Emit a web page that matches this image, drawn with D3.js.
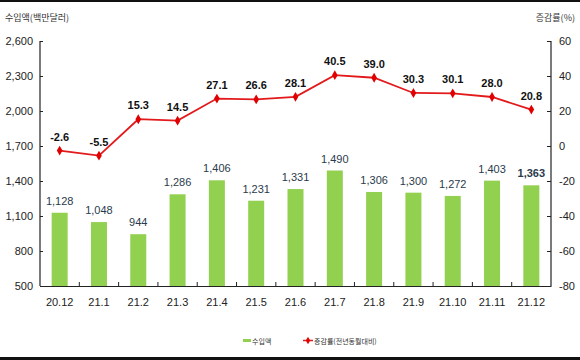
<!DOCTYPE html>
<html>
<head>
<meta charset="utf-8">
<script src="https://cdn.jsdelivr.net/npm/d3@7"></script>
<style>
  body { margin: 0; background: #fff; }
  svg text { font-family: "Liberation Sans", Arial, sans-serif; }
  .kr { font-family: "Noto Sans CJK KR", sans-serif; }
</style>
</head>
<body>
<div id="canvas"></div>
<script>
var months = ["20.12", "21.1", "21.2", "21.3", "21.4", "21.5", "21.6", "21.7", "21.8", "21.9", "21.10", "21.11", "21.12"];
var imports = [1128, 1048, 944, 1286, 1406, 1231, 1331, 1490, 1306, 1300, 1272, 1403, 1363];
var growth = [-2.6, -5.5, 15.3, 14.5, 27.1, 26.6, 28.1, 40.5, 39.0, 30.3, 30.1, 28.0, 20.8];
var leftTicks = [500, 800, 1100, 1400, 1700, 2000, 2300, 2600];
var rightTicks = [-80, -60, -40, -20, 0, 20, 40, 60];

var width = 580, height = 360;
var plotL = 40, plotR = 551, plotT = 41, plotB = 286;
var svg = d3.select("#canvas").append("svg").attr("width", width).attr("height", height);

// frame lines top & bottom
svg.append("rect").attr("x", 0).attr("y", 0).attr("width", width).attr("height", 2).attr("fill", "#111");
svg.append("rect").attr("x", 0).attr("y", 357).attr("width", width).attr("height", 3).attr("fill", "#111");

var x = d3.scaleBand().domain(months).range([plotL, plotR]);
var yL = d3.scaleLinear().domain([500, 2600]).range([plotB, plotT]);
var yR = d3.scaleLinear().domain([-80, 60]).range([plotB, plotT]);
var cx = function(i) { return x(months[i]) + x.bandwidth() / 2; };

// bars
var barW = 16;
svg.selectAll(".bar").data(imports).enter().append("rect")
	.attr("x", function(d, i) { return cx(i) - barW / 2; })
	.attr("y", function(d) { return yL(d); })
	.attr("width", barW)
	.attr("height", function(d) { return plotB - yL(d); })
	.attr("fill", "#92d050");

svg.selectAll(".barlbl").data(imports).enter().append("text")
	.attr("x", function(d, i) { return cx(i); })
	.attr("y", function(d) { return yL(d) - 8; })
	.attr("text-anchor", "middle")
	.style("font-size", "11px")
	.style("fill", "#2a3b4c")
	.style("font-weight", function(d, i) { return i === 12 ? "bold" : "normal"; })
	.text(function(d) { return d3.format(",")(d); });

// axes
var axisL = d3.axisLeft(yL).tickValues(leftTicks).tickSize(-3).tickPadding(7).tickFormat(d3.format(","));
var gL = svg.append("g").attr("transform", "translate(" + plotL + ",0)").call(axisL);
var axisR = d3.axisRight(yR).tickValues(rightTicks).tickSize(-4).tickPadding(8).tickFormat(function(d) { return String(d); });
var gR = svg.append("g").attr("transform", "translate(" + plotR + ",0)").call(axisR);
var axisB = d3.axisBottom(x).tickSize(0).tickPadding(12);
var gB = svg.append("g").attr("transform", "translate(0," + plotB + ")").call(axisB);

[gL, gR, gB].forEach(function(g) {
	g.select(".domain").attr("stroke", "#222").attr("stroke-width", 1.2);
	g.selectAll(".tick line").attr("stroke", "#222");
	g.selectAll(".tick text").style("font-size", "11px").style("fill", "#222").style("font-family", "Liberation Sans, Arial, sans-serif");
});
gL.select(".domain").attr("d", "M0," + plotB + "V" + plotT);
gR.select(".domain").attr("d", "M0," + plotB + "V" + plotT);

// upward ticks at band boundaries on x-axis
svg.selectAll(".xt").data(months.slice(1)).enter().append("line")
	.attr("x1", function(d) { return x(d); })
	.attr("x2", function(d) { return x(d); })
	.attr("y1", plotB)
	.attr("y2", plotB - 4)
	.attr("stroke", "#222");

// line
var line = d3.line()
	.x(function(d, i) { return cx(i); })
	.y(function(d) { return yR(d); });
svg.append("path").datum(growth).attr("d", line)
	.attr("fill", "none").attr("stroke", "#e31a1c").attr("stroke-width", 1.8);

var diamond = d3.symbol().type(d3.symbolDiamond).size(28);
svg.selectAll(".pt").data(growth).enter().append("path")
	.attr("d", diamond)
	.attr("transform", function(d, i) { return "translate(" + cx(i) + "," + yR(d) + ")"; })
	.attr("fill", "#e00000");

svg.selectAll(".ptlbl").data(growth).enter().append("text")
	.attr("x", function(d, i) { return cx(i); })
	.attr("y", function(d) { return yR(d) - 10; })
	.attr("text-anchor", "middle")
	.style("font-size", "11px")
	.style("font-weight", "bold")
	.style("fill", "#111")
	.text(function(d) { return d.toFixed(1); });

// axis titles
svg.append("text").attr("class", "kr").attr("x", 5).attr("y", 21)
	.style("font-size", "9px").style("fill", "#333").text("수입액(백만달러)");
svg.append("text").attr("class", "kr").attr("x", 575).attr("y", 21).attr("text-anchor", "end")
	.style("font-size", "9px").style("fill", "#333").text("증감률(%)");

// legend
svg.append("rect").attr("x", 243).attr("y", 339).attr("width", 8).attr("height", 3).attr("fill", "#92d050");
svg.append("text").attr("class", "kr").attr("x", 252).attr("y", 344)
	.style("font-size", "7px").style("fill", "#333").text("수입액");
svg.append("line").attr("x1", 303).attr("x2", 313).attr("y1", 340.5).attr("y2", 340.5)
	.attr("stroke", "#e31a1c").attr("stroke-width", 1.5);
svg.append("path").attr("d", d3.symbol().type(d3.symbolDiamond).size(16))
	.attr("transform", "translate(308,340.5)").attr("fill", "#e00000");
svg.append("text").attr("class", "kr").attr("x", 314).attr("y", 344)
	.style("font-size", "7px").style("fill", "#333").text("증감률(전년동월대비)");
</script>
</body>
</html>
